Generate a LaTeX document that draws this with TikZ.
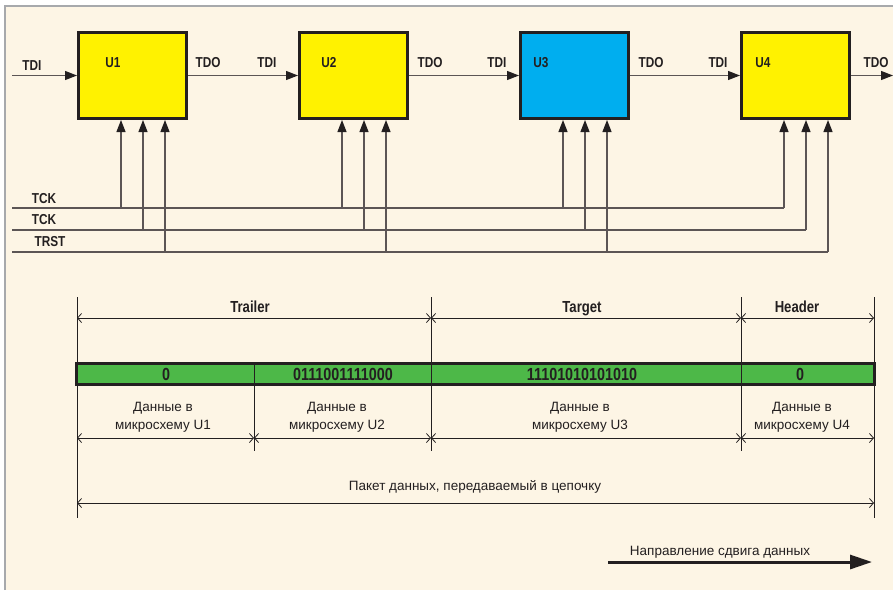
\documentclass[tikz,border=0pt]{standalone}
\usepackage{fontspec}
\setmainfont[FakeStretch=0.82]{Liberation Sans}
\newfontfamily\regfont{Liberation Sans}
\usetikzlibrary{arrows.meta,calc}
\definecolor{bg}{HTML}{FDF5E5}
\definecolor{frame}{HTML}{A7A9AC}
\definecolor{chipY}{HTML}{FFF200}
\definecolor{chipB}{HTML}{00AEEF}
\definecolor{barG}{HTML}{4DB848}
\definecolor{ink}{HTML}{231F20}
\definecolor{wire}{HTML}{5C5555}
\tikzset{
  chip/.style={draw=ink, line width=3pt, minimum width=108pt, minimum height=86pt, inner sep=0pt},
  sigtxt/.style={font=\fontsize{14.4}{16}\selectfont\bfseries, text=ink, inner sep=0pt, anchor=base},
  wireln/.style={draw=wire, line width=1.2pt},
  arr/.style={wireln, -{Triangle[length=12pt,width=9pt,fill=ink,color=ink]}},
  dimline/.style={draw=ink, line width=0.8pt},
  dim/.style={dimline, arrows={Straight Barb[length=4pt,width=9pt]-Straight Barb[length=4pt,width=9pt]}},
  seg/.style={draw=ink, line width=0.8pt, fill=barG, minimum height=20pt, inner sep=0pt},
  digits/.style={font=\fontsize{17.5}{19}\selectfont\bfseries, text=ink, inner sep=0pt, anchor=base},
  hdr/.style={font=\fontsize{16}{18}\selectfont\bfseries, text=ink, inner sep=0pt, anchor=base},
  datatxt/.style={font=\regfont\fontsize{13.5}{17.5}\selectfont, text=ink, align=center, inner sep=0pt, anchor=base},
}
\begin{document}
\begin{tikzpicture}[x=1pt,y=-1pt]
\useasboundingbox (0,0) rectangle (893,590);
\fill[white] (0,0) rectangle (893,590);
\fill[bg] (5,6) rectangle (893,590);
\draw[frame, line width=2pt] (5,590) -- (5,6) -- (893,6);

% chips
\node[chip, fill=chipY] (u1) at (132.5,75.5) {};
\node[chip, fill=chipY] (u2) at (353.5,75.5) {};
\node[chip, fill=chipB] (u3) at (574.5,75.5) {};
\node[chip, fill=chipY] (u4) at (795.5,75.5) {};
\node[sigtxt] (l1) at (113,67) {U1};
\node[sigtxt] (l2) at (329,67) {U2};
\node[sigtxt] (l3) at (541,67) {U3};
\node[sigtxt] (l4) at (763,67) {U4};

% data chain
\coordinate (tdiin) at (12,75.5);
\coordinate (tdoout) at (893,75.5);
\draw[arr] (tdiin) -- (u1.west);
\draw[arr] (u1.east) -- (u2.west);
\draw[arr] (u2.east) -- (u3.west);
\draw[arr] (u3.east) -- (u4.west);
\draw[arr] (u4.east) -- (tdoout);
\node[sigtxt] (tdi1) at (32,70.5) {TDI};
\node[sigtxt] (tdo1) at (208,67) {TDO};
\node[sigtxt] (tdi2) at (267,67) {TDI};
\node[sigtxt] (tdo2) at (430,67) {TDO};
\node[sigtxt] (tdi3) at (497,67) {TDI};
\node[sigtxt] (tdo3) at (651,67) {TDO};
\node[sigtxt] (tdi4) at (718,67) {TDI};
\node[sigtxt] (tdo4) at (876,67) {TDO};

% control bus
\coordinate (tck1) at (12,208);
\coordinate (tck2) at (12,230);
\coordinate (trst) at (12,252);
\node[sigtxt] (ltck1) at (44,203) {TCK};
\node[sigtxt] (ltck2) at (44,224.5) {TCK};
\node[sigtxt] (ltrst) at (50,246.5) {TRST};
\foreach \u in {1,2,3,4} {
  \coordinate (u\u a) at ($(u\u.south west)+(44,0)$);
  \coordinate (u\u b) at ($(u\u.south west)+(66,0)$);
  \coordinate (u\u c) at ($(u\u.south west)+(88,0)$);
}
\draw[wireln] (tck1) -- (u4a |- tck1);
\draw[wireln] (tck2) -- (u4b |- tck2);
\draw[wireln] (trst) -- (u4c |- trst);
\foreach \u in {1,2,3,4} {
  \draw[arr] (u\u a |- tck1) -- (u\u a);
  \draw[arr] (u\u b |- tck2) -- (u\u b);
  \draw[arr] (u\u c |- trst) -- (u\u c);
}

% extension lines
\draw[dimline] (77,297) -- (77,518);
\draw[dimline] (874,297) -- (874,518);
\draw[dimline] (431,297) -- (431,451);
\draw[dimline] (741,297) -- (741,451);
\draw[dimline] (254,385) -- (254,451);

% top dimensions
\draw[dim] (77,318) -- (431,318);
\draw[dim] (431,318) -- (741,318);
\draw[dim] (741,318) -- (874,318);
\node[hdr] (trailer) at (250,312) {Trailer};
\node[hdr] (target) at (582,312) {Target};
\node[hdr] (header) at (797,312) {Header};

% bar
\node[seg, minimum width=177pt] (b1) at (165.5,374) {};
\node[seg, minimum width=177pt] (b2) at (342.5,374) {};
\node[seg, minimum width=310pt] (b3) at (586,374) {};
\node[seg, minimum width=133pt] (b4) at (807.5,374) {};
\draw[draw=ink, line width=2.5pt] (b1.north west) rectangle (b4.south east);
\node[digits] (d1) at (166,380) {0};
\node[digits] (d2) at (343,380) {0111001111000};
\node[digits] (d3) at (582,380) {11101010101010};
\node[digits] (d4) at (800,380) {0};

% per-chip data
\node[datatxt] (p1) at (163,429) {Данные в\\микросхему U1};
\node[datatxt] (p2) at (337,429) {Данные в\\микросхему U2};
\node[datatxt] (p3) at (580,429) {Данные в\\микросхему U3};
\node[datatxt] (p4) at (802,429) {Данные в\\микросхему U4};
\draw[dim] (77,438) -- (254,438);
\draw[dim] (254,438) -- (431,438);
\draw[dim] (431,438) -- (741,438);
\draw[dim] (741,438) -- (874,438);

% packet
\node[datatxt] (pkt) at (475,490) {Пакет данных, передаваемый в цепочку};
\draw[dim] (77,503) -- (874,503);

% direction
\coordinate (dirA) at (608,562);
\coordinate (dirB) at (872,562);
\draw[draw=ink, line width=3pt, -{Triangle[length=22pt,width=14pt]}] (dirA) -- (dirB);
\node[datatxt] (dirt) at (720,555) {Направление сдвига данных};
\end{tikzpicture}
\end{document}
